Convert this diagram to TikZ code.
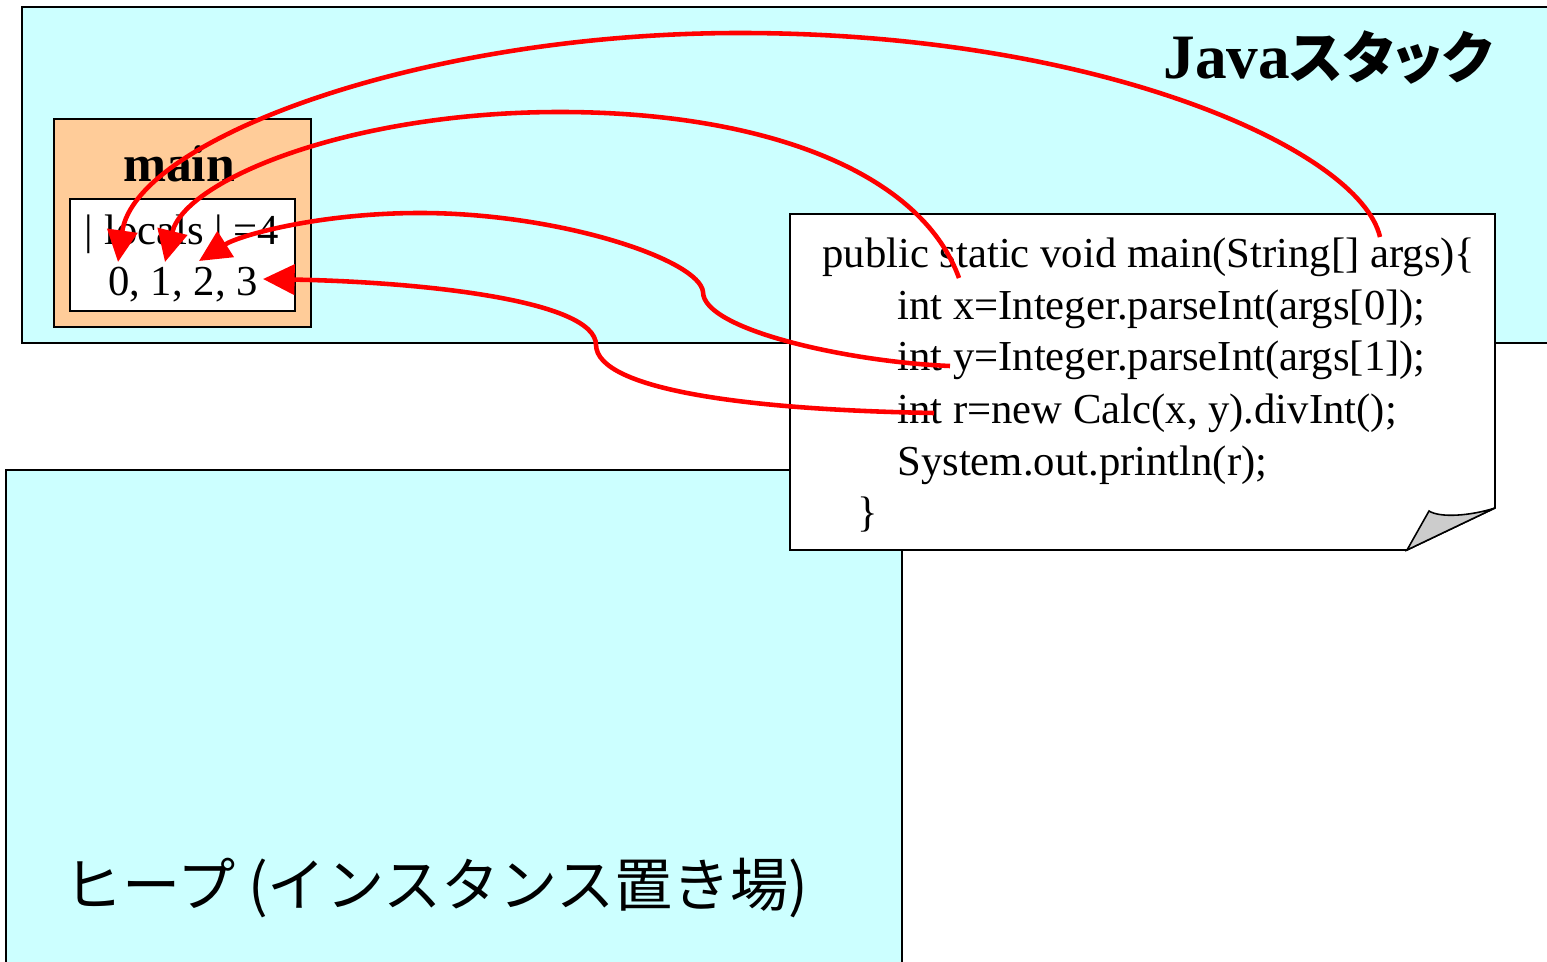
\documentclass[tikz,border=0pt]{standalone}
\usepackage{fontspec}
\setmainfont{Liberation Serif}
\newfontfamily\jpfont{Noto Sans CJK JP}
\newfontfamily\jppfont[RawFeature=+palt]{Noto Sans CJK JP}
\usetikzlibrary{arrows.meta}
\definecolor{areacyan}{RGB}{204,255,255}
\definecolor{framepeach}{RGB}{255,204,153}
\definecolor{curlgray}{RGB}{204,204,204}

\begin{document}
\begin{tikzpicture}[x=0.02cm, y=-0.02cm,
        area/.style={draw=black, line width=0.9pt, fill=areacyan},
        ref/.style={draw=red, line width=2.6pt, -{Triangle[length=18pt, width=17pt]}},
        codeline/.style={anchor=base west, inner sep=0pt, font=\fontsize{24.3}{29}\selectfont}]
        \clip (0,0) rectangle (1547,962);

        % memory areas
        \draw[area] (22,7) rectangle (1580,343);
        \draw[area] (6,470) rectangle (902,1000);
        \node (stack) at (1328,58) {\fontsize{36}{43}\selectfont\bfseries Java{\jppfont\fontsize{32}{38}\selectfont スタック}};
        \node[anchor=west] (heap) at (58,888) {\jpfont\fontsize{33.1}{40}\selectfont ヒープ (インスタンス置き場)};

        % frame of main
        \node[draw, line width=0.9pt, fill=framepeach, minimum width=5.14cm, minimum height=4.16cm] (frame) at (182.5,223) {};
        \node[draw, line width=0.9pt, fill=white, minimum width=4.5cm, minimum height=2.24cm] (locals) at (182.5,255) {};
        \node (main) at (179,164) {\fontsize{29.4}{35}\selectfont\bfseries main};
        \node (size) at (182,234) {\fontsize{24.3}{29}\selectfont | locals | =4};
        \node (slots) at (183,285) {\fontsize{24.3}{29}\selectfont 0, 1, 2, 3};

        % source code note
        \draw[line width=0.9pt, fill=white] (790,214) -- (1495,214) -- (1495,508) -- (1407,550) -- (790,550) -- cycle;
        \draw[line width=0.9pt, fill=curlgray] (1407,550) -- (1429,511) .. controls (1440,518) and (1470,516) .. (1495,508) -- cycle;
        \node[codeline] (l1) at (822,268) {public static void main(String[] args)\{};
        \node[codeline] (l2) at (897,320) {int x=Integer.parseInt(args[0]);};
        \node[codeline] (l3) at (897,371) {int y=Integer.parseInt(args[1]);};
        \node[codeline] (l4) at (897,423) {int r=new Calc(x, y).divInt();};
        \node[codeline] (l5) at (897,475) {System.out.println(r);};
        \node[codeline] (l6) at (857,526) {\}};

        % references into the locals
        \coordinate (args) at (1380,237);
        \coordinate (xvar) at (959,278);
        \coordinate (yvar) at (950,366);
        \coordinate (rvar) at (934,413);
        \coordinate (slot0) at (118,262);
        \coordinate (slot1) at (165,262);
        \coordinate (slot2) at (199,261);
        \coordinate (slot3) at (263,279);

        \draw[ref] (args) .. controls (1360,150) and (1100,33) .. (740,33) .. controls (420,33) and (135,140) .. (slot0);
        \draw[ref] (xvar) .. controls (920,170) and (760,112) .. (560,112) .. controls (350,112) and (185,180) .. (slot1);
        \draw[ref] (yvar) .. controls (850,362) and (703,330) .. (703,292) .. controls (700,260) and (560,213) .. (420,213) .. controls (320,213) and (240,235) .. (slot2);
        \draw[ref] (rvar) .. controls (750,410) and (597,390) .. (596,345) .. controls (596,300) and (420,282) .. (slot3);
\end{tikzpicture}
\end{document}
